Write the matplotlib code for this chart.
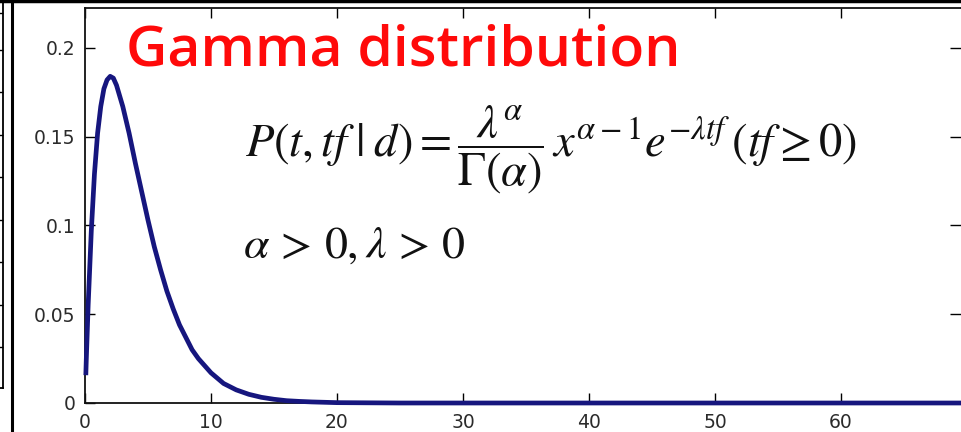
import matplotlib
matplotlib.use("Agg")
import matplotlib.pyplot as plt
from matplotlib.lines import Line2D

plt.rcParams['mathtext.fontset'] = 'stix'

# density curve sampled along t
t_vals = [0.07, 0.1, 0.25, 0.5, 0.75, 1.0, 1.25, 1.5, 1.75, 2.0, 2.25, 2.5,
          3.0, 3.5, 4.0, 4.5, 5.0, 5.5, 6.0, 6.5, 7.0, 7.5, 8.0, 8.5, 9.0,
          9.5, 10.0, 11.0, 12.0, 13.0, 14.0, 15.0, 16.0, 17.0, 18.0, 20.0,
          25.0, 70.0]
p_vals = [0.017, 0.024, 0.055, 0.097, 0.129, 0.152, 0.167, 0.177, 0.182,
          0.184, 0.183, 0.179, 0.167, 0.152, 0.135, 0.119, 0.103, 0.088,
          0.075, 0.063, 0.053, 0.044, 0.037, 0.030, 0.025, 0.021, 0.017,
          0.011, 0.0074, 0.0049, 0.0032, 0.0021, 0.0013, 0.0009, 0.0006,
          0.0002, 0.0, 0.0]

xticks = [0, 10, 20, 30, 40, 50, 60]
yticks = [0, 0.05, 0.1, 0.15, 0.2]
ytick_labels = ['0', '0.05', '0.1', '0.15', '0.2']

# tick rows of the panel cut off on the left (pixel rows)
side_ticks = [13, 50, 92, 135, 177, 220, 262, 305, 347]

W, H = 961, 432
fig = plt.figure(figsize=(W / 100, H / 100), dpi=100)
fig.patch.set_facecolor('white')

ax = fig.add_axes([85 / W, (H - 403) / H, (967 - 85) / W, (403 - 8) / H])
ax.plot(t_vals, p_vals, color='#16167e', lw=3.4, clip_on=False,
        solid_joinstyle='round', zorder=3)
ax.set_xlim(0, 70)
ax.set_ylim(0, 0.2225)
ax.set_xticks(xticks)
ax.set_xticklabels([str(v) for v in xticks])
ax.set_yticks(yticks)
ax.set_yticklabels(ytick_labels)
ax.tick_params(direction='in', length=7, width=1, top=True, right=False,
               labelsize=13.5, labelcolor='#2b2b2b')
ax.tick_params(axis='y', pad=7)
ax.tick_params(axis='x', pad=7)
for s in ax.spines.values():
    s.set_linewidth(1.3)
    s.set_color('#111111')

sec = ax.secondary_yaxis('right')
sec.set_yticks(yticks)
sec.set_yticklabels([])
sec.tick_params(direction='in', length=12, width=1)

ax.text(0.047, 0.89, 'Gamma distribution', transform=ax.transAxes,
        color='#ff0a0a', fontsize=41, family='Open Sans', fontweight='semibold',
        va='center', ha='left')

formula = (r'$P(t,tf\;|\;d)=\dfrac{\lambda^{\alpha}}{\Gamma(\alpha)}\,'
           r'x^{\alpha-1}e^{-\lambda tf}\,(tf\geq 0)$')
ax.text(0.181, 0.64, formula, transform=ax.transAxes, fontsize=33.5,
        va='center', ha='left', color='#111111')
ax.text(0.179, 0.40, r'$\alpha\,>\,0,\lambda\,>\,0$', transform=ax.transAxes,
        fontsize=33, va='center', ha='left', color='#111111')

# edge of the neighbouring panel
left = fig.add_axes([-0.2, 0, 0.2 + 3 / W, 1.0])
left.set_xlim(0, 1)
left.set_ylim(H, 0)
left.set_xticks([])
left.yaxis.tick_right()
left.set_yticks(side_ticks)
left.set_yticklabels([])
left.tick_params(direction='in', length=4, width=1)
left.spines['bottom'].set_visible(False)
left.spines['top'].set_visible(False)
left.spines['right'].set_bounds(-10, 388)
left.spines['right'].set_linewidth(1.3)
left.patch.set_alpha(0)
fig.add_artist(Line2D([0, 3 / W], [(H - 388) / H] * 2, color='black', lw=1.3,
                      transform=fig.transFigure))

# outer frame
fig.add_artist(Line2D([12 / W, 12 / W], [0, 1], color='black', lw=2.2,
                      transform=fig.transFigure))
fig.add_artist(Line2D([0, 1], [1 - 1 / H, 1 - 1 / H], color='black', lw=2.5,
                      transform=fig.transFigure))

fig.savefig('out.png', dpi=100)
